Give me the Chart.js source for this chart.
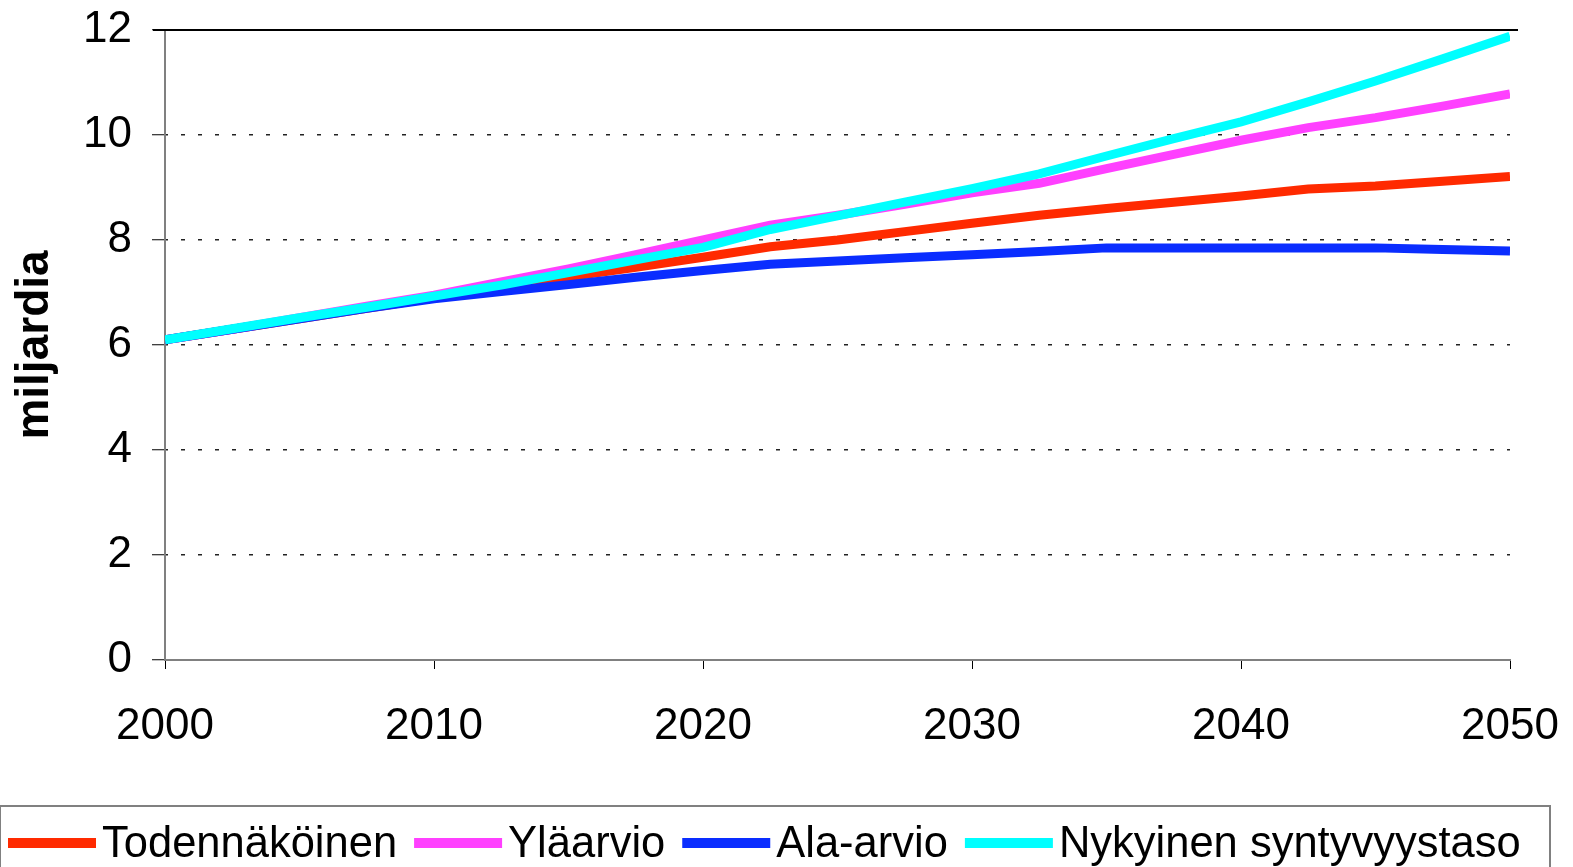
<!DOCTYPE html>
<html>
<head>
<meta charset="utf-8">
<script src="https://cdn.jsdelivr.net/npm/chart.js@4/dist/chart.umd.min.js"></script>
<style>
  html, body { margin: 0; padding: 0; background: #fff; overflow: hidden; }
  canvas { display: block; }
</style>
</head>
<body>
<canvas id="chart" width="1573" height="867"></canvas>
<script>
var years = [2000, 2002.5, 2005, 2007.5, 2010, 2012.5, 2015, 2017.5, 2020, 2022.5, 2025,
             2027.5, 2030, 2032.5, 2035, 2037.5, 2040, 2042.5, 2045, 2047.5, 2050];

var todennakoinen = [6.1, 6.3, 6.5, 6.7, 6.9, 7.1, 7.3, 7.48, 7.67, 7.87, 8.0,
                     8.16, 8.32, 8.47, 8.6, 8.72, 8.84, 8.97, 9.03, 9.12, 9.21];
var ylaarvio = [6.1, 6.3, 6.52, 6.74, 6.95, 7.2, 7.45, 7.72, 8.0, 8.28, 8.47,
                8.68, 8.9, 9.08, 9.36, 9.63, 9.9, 10.14, 10.33, 10.55, 10.78];
var alaarvio = [6.1, 6.3, 6.5, 6.7, 6.88, 7.02, 7.15, 7.29, 7.42, 7.54, 7.6,
                7.66, 7.72, 7.78, 7.85, 7.85, 7.85, 7.85, 7.85, 7.82, 7.79];
var nykyinen = [6.1, 6.31, 6.52, 6.72, 6.93, 7.14, 7.38, 7.62, 7.86, 8.2, 8.46,
                8.72, 8.98, 9.26, 9.6, 9.93, 10.25, 10.63, 11.03, 11.45, 11.88];

var seriesNames = ['Todennäköinen', 'Yläarvio', 'Ala-arvio', 'Nykyinen syntyvyystaso'];
var seriesColors = ['#ff2a00', '#ff40ff', '#0a2dff', '#00ffff'];
var yTicks = [0, 2, 4, 6, 8, 10, 12];
var xTicks = [2000, 2010, 2020, 2030, 2040, 2050];

var FONT = "'Liberation Sans', Arial, sans-serif";

function points(vals) {
  return years.map(function (y, i) { return { x: y, y: vals[i] }; });
}

var allSeries = [todennakoinen, ylaarvio, alaarvio, nykyinen];
var datasets = allSeries.map(function (vals, i) {
  return {
    label: seriesNames[i],
    data: points(vals),
    borderColor: seriesColors[i],
    backgroundColor: seriesColors[i],
    borderWidth: 9,
    pointRadius: 0,
    tension: 0,
    order: 4 - i   // last series on top, like the original
  };
});

// top solid line, and the boxed legend at the bottom
var frame = {
  id: 'frame',
  beforeDatasetsDraw: function (chart) {
    var ctx = chart.ctx, a = chart.chartArea;
    ctx.save();
    ctx.strokeStyle = '#000';
    ctx.lineWidth = 2;
    ctx.beginPath();
    ctx.moveTo(a.left - 12, a.top);
    ctx.lineTo(a.right + 8, a.top);
    ctx.stroke();
    ctx.restore();
  },
  afterDraw: function (chart) {
    var ctx = chart.ctx;
    ctx.save();
    ctx.strokeStyle = '#808080';
    ctx.lineWidth = 2;
    ctx.strokeRect(0, 806, 1550, 70);

    ctx.font = '43.5px ' + FONT;
    ctx.textBaseline = 'alphabetic';
    var x = 8;
    chart.data.datasets.forEach(function (ds) {
      ctx.fillStyle = ds.borderColor;
      ctx.fillRect(x, 838, 88, 10);
      x += 88 + 6;
      ctx.fillStyle = '#000';
      ctx.fillText(ds.label, x, 857);
      x += ctx.measureText(ds.label).width + 17;
    });
    ctx.restore();
  }
};

var ctx = document.getElementById('chart').getContext('2d');
var chart = new Chart(ctx, {
  type: 'line',
  data: { datasets: datasets },
  plugins: [frame],
  options: {
    responsive: false,
    animation: false,
    layout: { padding: { top: 30, right: 63, left: 0, bottom: 61 } },
    plugins: {
      tooltip: { enabled: false },
      legend: { display: false }
    },
    scales: {
      x: {
        type: 'linear',
        min: 2000,
        max: 2050,
        afterBuildTicks: function (scale) {
          scale.ticks = xTicks.map(function (v) { return { value: v }; });
        },
        afterFit: function (scale) {
          scale.height = 146;
          scale.paddingLeft = 0;
          scale.paddingRight = 0;
        },
        grid: { drawOnChartArea: false, tickLength: 9, tickColor: '#000', tickWidth: 1 },
        border: { color: '#808080', width: 2 },
        ticks: {
          padding: 31,
          maxRotation: 0,
          color: '#000',
          font: { family: FONT, size: 44 },
          callback: function (v) { return String(v); }
        }
      },
      y: {
        min: 0,
        max: 12,
        afterBuildTicks: function (scale) {
          scale.ticks = yTicks.map(function (v) { return { value: v }; });
        },
        afterFit: function (scale) {
          scale.width = 165;
          scale.paddingTop = 0;
          scale.paddingBottom = 0;
        },
        grid: {
          color: function (c) {
            var v = c.tick ? c.tick.value : null;
            return (v === 0 || v === 12) ? 'rgba(0,0,0,0)' : '#222';
          },
          lineWidth: 1.5,
          borderDash: [4, 13],
          tickLength: 13,
          tickColor: '#000',
          tickWidth: 1
        },
        border: { color: '#808080', width: 2, dash: [4, 13], dashOffset: -15 },
        title: {
          display: true,
          text: 'miljardia',
          color: '#000',
          padding: { top: 8, bottom: 0 },
          font: { family: FONT, size: 46, weight: 'bold' }
        },
        ticks: {
          padding: 20,
          color: '#000',
          font: { family: FONT, size: 44 }
        }
      }
    }
  }
});
</script>
</body>
</html>
